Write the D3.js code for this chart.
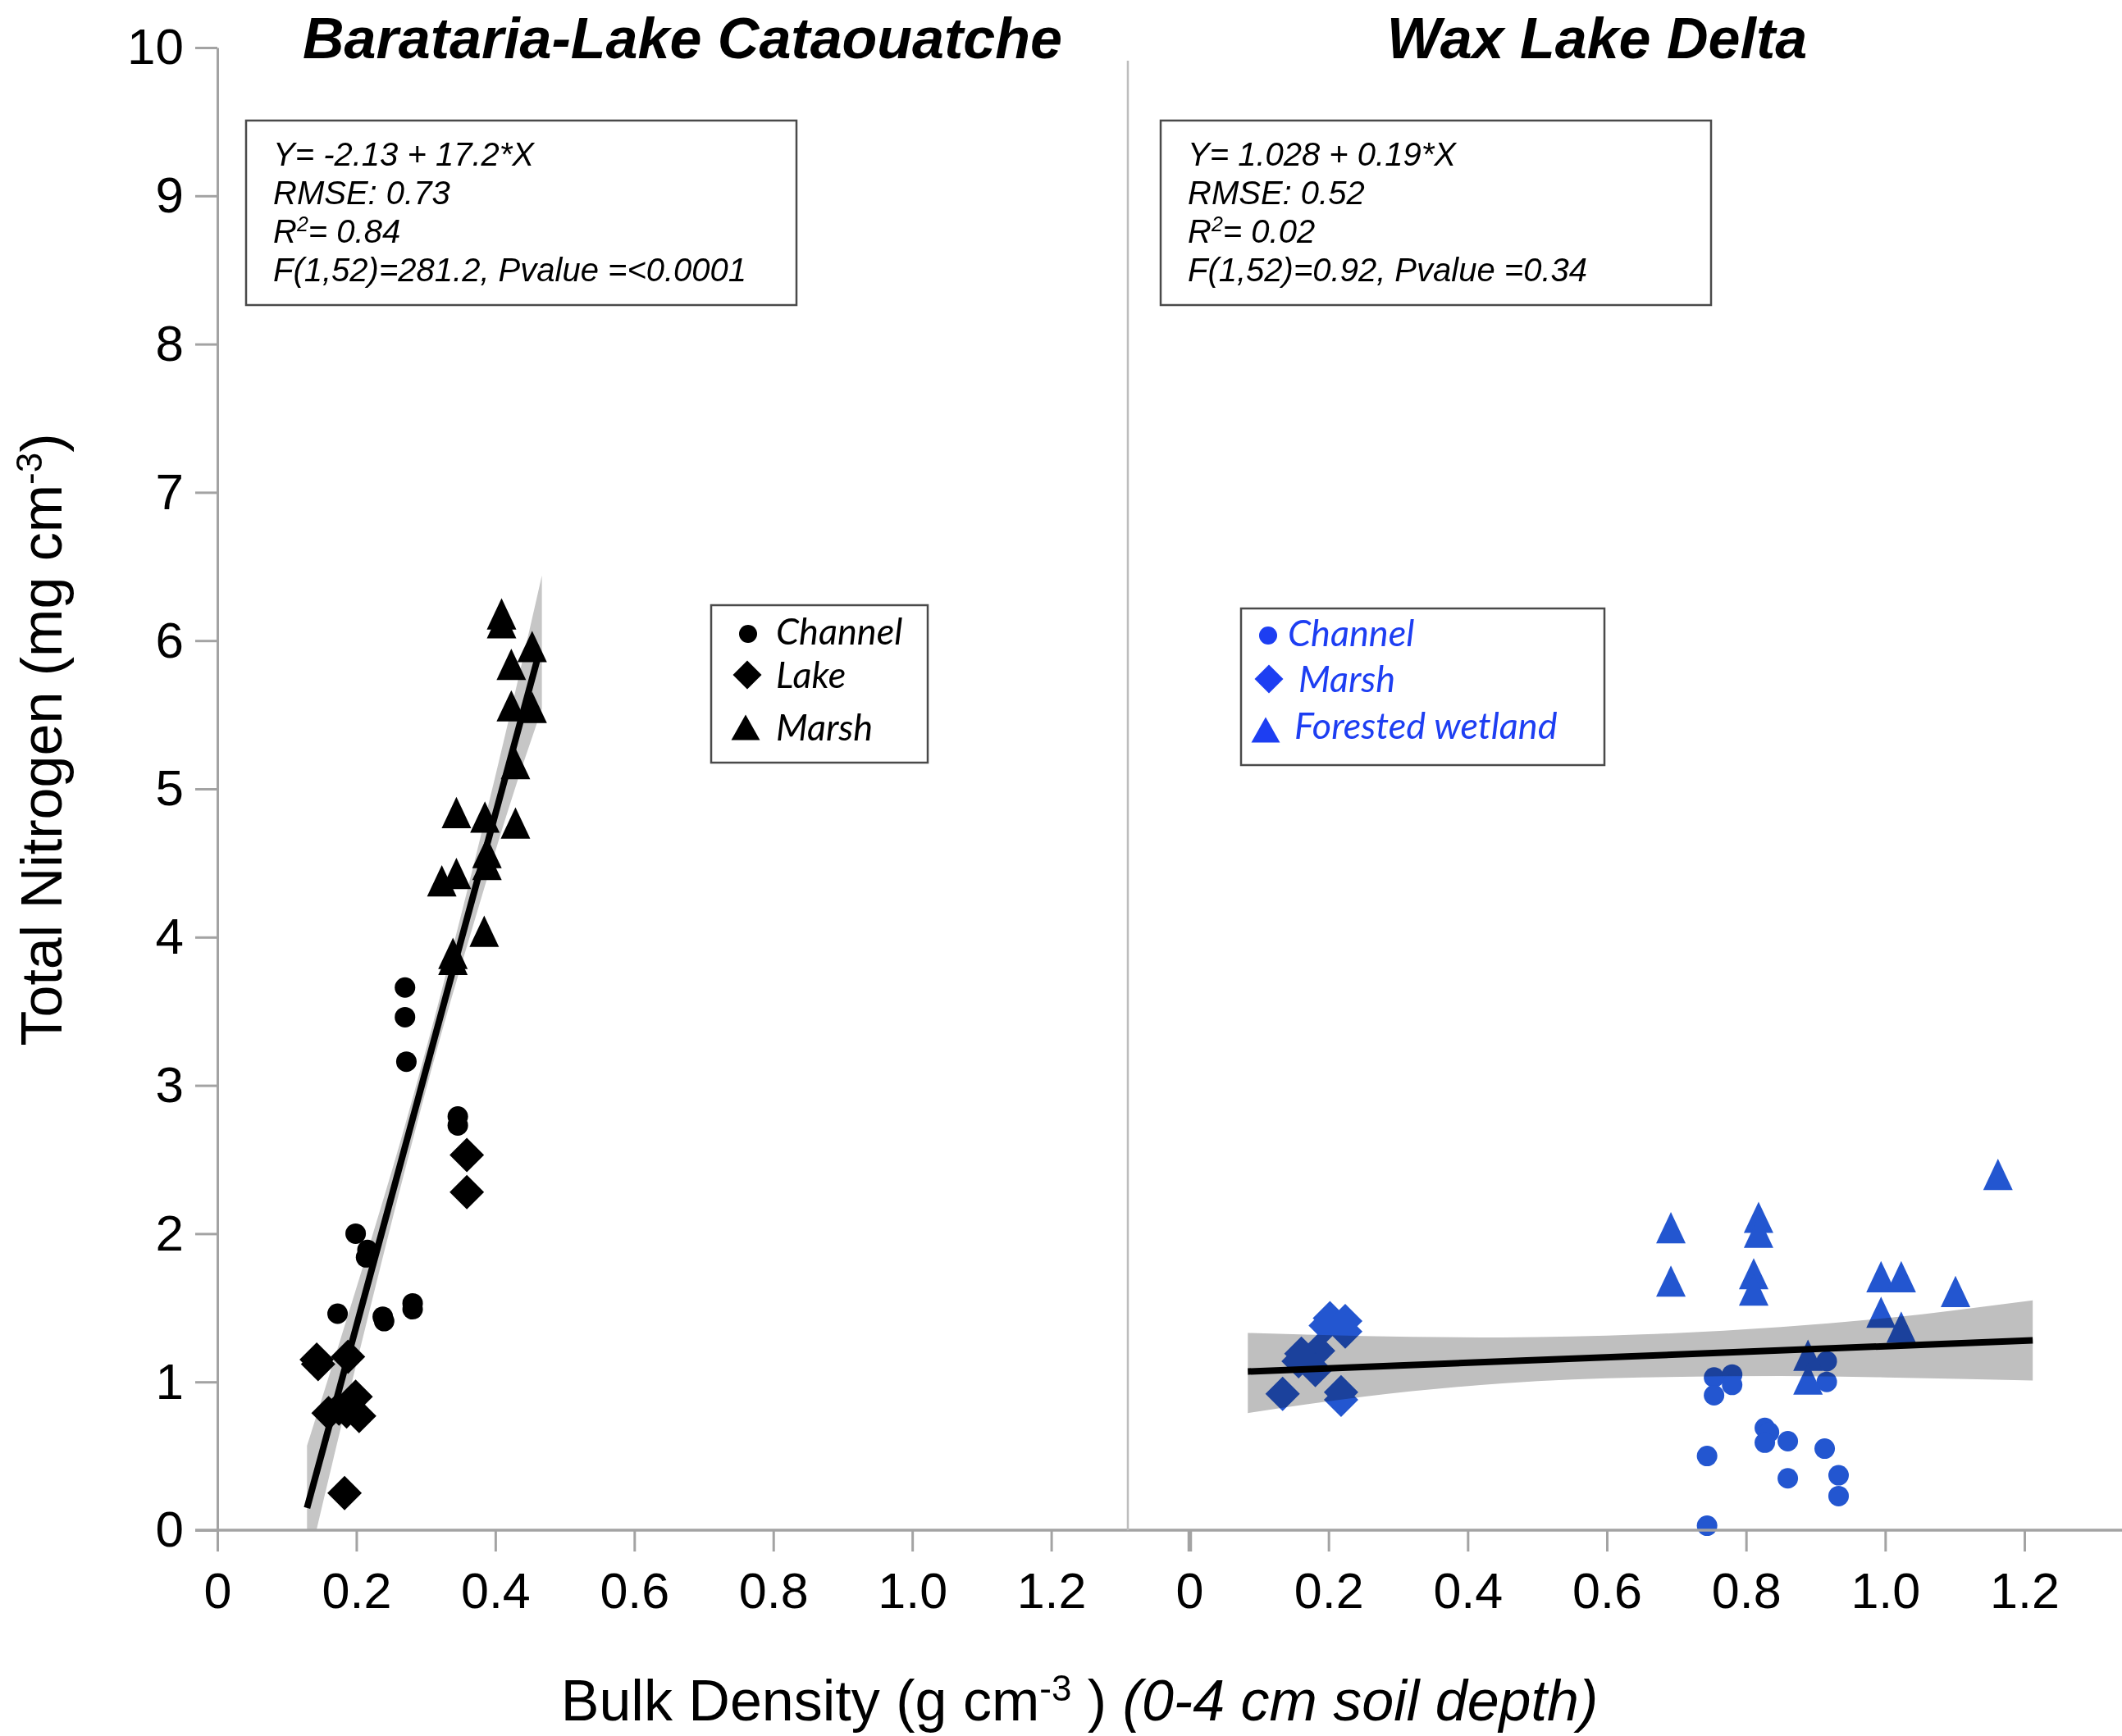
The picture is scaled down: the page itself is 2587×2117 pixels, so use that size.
<!DOCTYPE html>
<html>
<head>
<meta charset="utf-8">
<script src="https://cdn.jsdelivr.net/npm/d3@7"></script>
<style>
  body { margin: 0; background: #fff; }
  svg { display: block; }
  text { fill: #000; }
</style>
</head>
<body>
<svg id="chart" width="2587" height="2117" font-family="'Liberation Sans', Arial, sans-serif"></svg>
<script>

// ---- data ----
let xTicks = [0, 0.2, 0.4, 0.6, 0.8, 1.0, 1.2]
let xTickLabels = ["0", "0.2", "0.4", "0.6", "0.8", "1.0", "1.2"]
let yTicks = [0, 1, 2, 3, 4, 5, 6, 7, 8, 9, 10]

// Barataria-Lake Cataouatche
let blcChannel = [[0.270, 3.66], [0.270, 3.46], [0.272, 3.16], [0.346, 2.79], [0.346, 2.73],
  [0.199, 2.00], [0.216, 1.89], [0.214, 1.84], [0.173, 1.46], [0.238, 1.44], [0.240, 1.41],
  [0.281, 1.53], [0.281, 1.49]]
let blcLake = [[0.359, 2.53], [0.359, 2.28], [0.143, 1.15], [0.145, 1.12], [0.188, 1.17],
  [0.199, 0.90], [0.160, 0.79], [0.175, 0.82], [0.186, 0.80], [0.204, 0.77], [0.183, 0.25]]
let blcMarsh = [[0.409, 6.18], [0.409, 6.12], [0.453, 5.96], [0.423, 5.84], [0.423, 5.56],
  [0.453, 5.55], [0.429, 5.17], [0.344, 4.84], [0.385, 4.81], [0.429, 4.77], [0.388, 4.57],
  [0.388, 4.49], [0.344, 4.43], [0.323, 4.38], [0.384, 4.04], [0.339, 3.89], [0.339, 3.85]]
let blcFit = [[0.129, 0.15], [0.462, 5.90]]
let blcBandX = [0.129, 0.17, 0.22, 0.27, 0.32, 0.37, 0.42, 0.467]
let blcBandLo = [-0.27, 0.54, 1.50, 2.43, 3.31, 4.11, 4.88, 5.54]
let blcBandHi = [0.57, 1.18, 1.94, 2.73, 3.59, 4.51, 5.48, 6.44]
let blcStats = ["Y= -2.13 + 17.2*X", "RMSE: 0.73", ["R", "2", "= 0.84"], "F(1,52)=281.2, Pvalue =<0.0001"]
let blcLegend = ["Channel", "Lake", "Marsh"]

// Wax Lake Delta
let wldChannel = [[0.754, 1.03], [0.780, 1.05], [0.780, 0.98], [0.754, 0.91], [0.916, 1.14],
  [0.916, 1.00], [0.827, 0.69], [0.833, 0.66], [0.827, 0.59], [0.860, 0.60], [0.913, 0.55],
  [0.744, 0.50], [0.860, 0.35], [0.933, 0.37], [0.933, 0.23], [0.744, 0.03]]
let wldMarsh = [[0.202, 1.43], [0.224, 1.41], [0.196, 1.38], [0.224, 1.34], [0.161, 1.19],
  [0.185, 1.21], [0.181, 1.08], [0.157, 1.14], [0.134, 0.92], [0.218, 0.93], [0.218, 0.88]]
let wldForested = [[1.162, 2.40], [0.692, 2.04], [0.818, 2.11], [0.818, 2.01], [0.692, 1.68],
  [0.811, 1.73], [0.811, 1.62], [0.994, 1.71], [1.023, 1.71], [0.994, 1.47], [1.023, 1.37],
  [1.101, 1.61], [0.889, 1.18], [0.889, 1.02]]
let wldFit = [[0.084, 1.07], [1.212, 1.28]]
let wldBandX = [0.084, 0.25, 0.45, 0.65, 0.85, 1.0, 1.212]
let wldBandLo = [0.79, 0.90, 0.99, 1.03, 1.04, 1.03, 1.01]
let wldBandHi = [1.33, 1.31, 1.30, 1.32, 1.37, 1.43, 1.55]
let wldStats = ["Y= 1.028 + 0.19*X", "RMSE: 0.52", ["R", "2", "= 0.02"], "F(1,52)=0.92, Pvalue =0.34"]
let wldLegend = ["Channel", "Marsh", "Forested wetland"]

// ---- scales ----
let svg = d3.select("#chart")

let y = d3.scaleLinear().domain([0, 10]).range([1866, 58])
let xLeft = d3.scaleLinear().domain([0, 1.2]).range([265, 1281.6])
let xRight = d3.scaleLinear().domain([0, 1.2]).range([1450, 2468])

let axisColor = "#a3a3a3"
let blue = "#2356d0"
let legendBlue = "#1d3ef2"

svg.append("clipPath").attr("id", "plotclip")
  .append("rect").attr("x", 0).attr("y", y(10)).attr("width", 2587).attr("height", y(0) - y(10))

// custom marker shapes (size = characteristic width squared)
function triangleType(ratio) {
  return {
    draw: function(ctx, size) {
      let w = Math.sqrt(size), h = w * ratio
      ctx.moveTo(0, -h / 2)
      ctx.lineTo(w / 2, h / 2)
      ctx.lineTo(-w / 2, h / 2)
      ctx.closePath()
    }
  }
}
let diamondType = {
  draw: function(ctx, size) {
    let r = Math.sqrt(size) / 2
    ctx.moveTo(0, -r)
    ctx.lineTo(r, 0)
    ctx.lineTo(0, r)
    ctx.lineTo(-r, 0)
    ctx.closePath()
  }
}
let circleSym = d3.symbol().type(d3.symbolCircle).size(Math.PI * 12.5 * 12.5)
let diamondSym = d3.symbol().type(diamondType).size(42 * 42)
let triangleSym = d3.symbol().type(triangleType(1.06)).size(36 * 36)

function zip3(xs, lo, hi) {
  return xs.map(function(v, i) { return { x: v, lo: lo[i], hi: hi[i] } })
}

function drawPanel(x, groups, fit, band, color, bandColor) {
  let g = svg.append("g")

  groups.forEach(function(grp) {
    g.append("g").selectAll("path")
      .data(grp.data)
      .join("path")
        .attr("transform", function(d) { return "translate(" + x(d[0]) + "," + y(d[1]) + ")" })
        .attr("d", grp.sym())
        .attr("fill", color)
  })

  let area = d3.area()
    .curve(d3.curveMonotoneX)
    .x(function(d) { return x(d.x) })
    .y0(function(d) { return y(d.lo) })
    .y1(function(d) { return y(d.hi) })

  g.append("path")
    .datum(band)
    .attr("d", area)
    .attr("fill", bandColor)
    .attr("clip-path", "url(#plotclip)")
    .style("mix-blend-mode", "multiply")

  let line = d3.line()
    .x(function(d) { return x(d[0]) })
    .y(function(d) { return y(d[1]) })

  g.append("path")
    .datum(fit)
    .attr("d", line)
    .attr("fill", "none")
    .attr("stroke", "#000")
    .attr("stroke-width", 8)
}

drawPanel(xLeft, [
  { data: blcChannel, sym: circleSym },
  { data: blcLake, sym: diamondSym },
  { data: blcMarsh, sym: triangleSym }
], blcFit, zip3(blcBandX, blcBandLo, blcBandHi), "#000", "#c6c6c6")

drawPanel(xRight, [
  { data: wldChannel, sym: circleSym },
  { data: wldMarsh, sym: diamondSym },
  { data: wldForested, sym: triangleSym }
], wldFit, zip3(wldBandX, wldBandLo, wldBandHi), blue, "#bfbfbf")

// ---- axes ----
let yAxis = svg.append("g")
    .attr("transform", "translate(" + xLeft(0) + ",0)")
    .call(d3.axisLeft(y).tickValues(yTicks).tickFormat(d3.format("d"))
      .tickSizeInner(27).tickSizeOuter(0).tickPadding(14))

function xAxisFor(x) {
  return d3.axisBottom(x)
    .tickValues(xTicks)
    .tickFormat(function(d, i) { return xTickLabels[i] })
    .tickSizeInner(26).tickSizeOuter(0).tickPadding(26)
}
let xAxisL = svg.append("g").attr("transform", "translate(0," + y(0) + ")").call(xAxisFor(xLeft))
let xAxisR = svg.append("g").attr("transform", "translate(0," + y(0) + ")").call(xAxisFor(xRight))
xAxisL.select(".domain").remove()
xAxisR.select(".domain").remove()

svg.append("line")
  .attr("x1", xLeft(0) - 27).attr("x2", 2587)
  .attr("y1", y(0)).attr("y2", y(0))
  .attr("stroke", axisColor).attr("stroke-width", 3.5)

// divider between the two sites
svg.append("line")
  .attr("x1", 1375).attr("x2", 1375)
  .attr("y1", 74).attr("y2", y(0))
  .attr("stroke", "#bdbdbd").attr("stroke-width", 2.5)

svg.selectAll(".tick line, .domain").attr("stroke", axisColor).attr("stroke-width", 3)
// the right panel's zero tick is drawn heavier in the original
xAxisR.selectAll(".tick line").filter(function(d) { return d === 0 }).attr("stroke-width", 5.5)
yAxis.selectAll("text").attr("font-size", 62).attr("fill", "#000")
xAxisL.selectAll("text").attr("font-size", 61).attr("fill", "#000")
xAxisR.selectAll("text").attr("font-size", 61).attr("fill", "#000")

// ---- titles ----
svg.append("text")
  .attr("x", 832).attr("y", 71)
  .attr("text-anchor", "middle")
  .attr("font-size", 70).attr("font-weight", "bold").attr("font-style", "italic")
  .text("Barataria-Lake Cataouatche")

svg.append("text")
  .attr("x", 1947).attr("y", 71)
  .attr("text-anchor", "middle")
  .attr("font-size", 70).attr("font-weight", "bold").attr("font-style", "italic")
  .text("Wax Lake Delta")

// y axis title
let yt = svg.append("text")
  .attr("transform", "translate(75,902) rotate(-90)")
  .attr("text-anchor", "middle")
  .attr("font-size", 70)
yt.append("tspan").text("Total Nitrogen (mg cm")
yt.append("tspan").attr("baseline-shift", "super").attr("font-size", 44).text("-3")
yt.append("tspan").text(")")

// x axis title
let xt = svg.append("text")
  .attr("x", 1316).attr("y", 2098)
  .attr("text-anchor", "middle")
  .attr("font-size", 70)
xt.append("tspan").text("Bulk Density (g cm")
xt.append("tspan").attr("baseline-shift", "super").attr("font-size", 44).text("-3")
xt.append("tspan").text(" ) ")
xt.append("tspan").attr("font-style", "italic").text("(0-4 cm soil depth)")

// ---- regression stats boxes ----
function statsBox(bx, lines) {
  svg.append("rect")
    .attr("x", bx).attr("y", 147).attr("width", 671).attr("height", 225)
    .attr("fill", "#fff").attr("stroke", "#4a4a4a").attr("stroke-width", 2.5)
  let baselines = [202, 249, 296, 343]
  lines.forEach(function(ln, i) {
    let t = svg.append("text")
      .attr("x", bx + 33).attr("y", baselines[i])
      .attr("font-size", 40).attr("font-style", "italic")
    if (Array.isArray(ln)) {
      t.append("tspan").text(ln[0])
      t.append("tspan").attr("baseline-shift", "super").attr("font-size", 25).text(ln[1])
      t.append("tspan").text(ln[2])
    } else {
      t.text(ln)
    }
  })
}
statsBox(300, blcStats)
statsBox(1415, wldStats)

// ---- legends ----
let legCircle = d3.symbol().type(d3.symbolCircle).size(Math.PI * 11 * 11)
let legDiamond = d3.symbol().type(diamondType).size(35 * 35)
let legTriangle = d3.symbol().type(triangleType(0.88)).size(35 * 35)

function legend(box, items, color, marks, textPos) {
  svg.append("rect")
    .attr("x", box[0]).attr("y", box[1]).attr("width", box[2]).attr("height", box[3])
    .attr("fill", "#fff").attr("stroke", "#4a4a4a").attr("stroke-width", 2.5)
  let syms = [legCircle, legDiamond, legTriangle]
  items.forEach(function(name, i) {
    svg.append("path")
      .attr("transform", "translate(" + marks[i][0] + "," + marks[i][1] + ")")
      .attr("d", syms[i]())
      .attr("fill", color)
    svg.append("text")
      .attr("x", textPos[i][0]).attr("y", textPos[i][1])
      .attr("font-family", "Lato, 'Open Sans', sans-serif")
      .attr("font-style", "italic")
      .attr("font-size", 45)
      .style("fill", color)
      .text(name)
  })
}
legend([867, 738, 264, 192], blcLegend, "#000",
  [[912, 773], [911, 823], [909, 887]],
  [[946, 786], [946, 839], [946, 903]])
legend([1513, 742, 443, 191], wldLegend, legendBlue,
  [[1546, 775], [1547, 828], [1543, 890]],
  [[1570, 788], [1583, 844], [1578, 901]])

</script>
</body>
</html>
